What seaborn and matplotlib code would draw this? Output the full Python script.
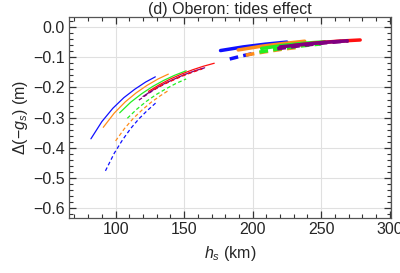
import numpy as np
import matplotlib
matplotlib.use("Agg")
import matplotlib.pyplot as plt
from matplotlib.ticker import MultipleLocator
import seaborn as sns

# left group (thin lines): solid + dashed per colour
blue_solid_h = [82, 90, 98, 106, 114, 122, 129]
blue_solid_dg = [-0.370, -0.313, -0.269, -0.234, -0.206, -0.182, -0.165]
orange_solid_h = [91, 99, 107, 115, 123, 131, 138.5]
orange_solid_dg = [-0.332, -0.285, -0.248, -0.218, -0.193, -0.172, -0.156]
green_solid_h = [103, 111, 119, 127, 135, 143, 151.5]
green_solid_dg = [-0.284, -0.249, -0.221, -0.197, -0.177, -0.160, -0.145]
purple_solid_h = [120, 126, 134, 142, 150, 158, 165]
purple_solid_dg = [-0.230, -0.212, -0.191, -0.174, -0.158, -0.145, -0.135]
red_solid_h = [124, 132, 140, 148, 156, 164, 172]
red_solid_dg = [-0.213, -0.191, -0.172, -0.156, -0.142, -0.130, -0.120]

blue_dash_h = [92.6, 99, 105, 111, 117, 123, 129.4]
blue_dash_dg = [-0.476, -0.418, -0.374, -0.336, -0.304, -0.277, -0.251]
orange_dash_h = [100, 106.5, 113, 119.5, 126, 132.5, 139]
orange_dash_dg = [-0.377, -0.336, -0.302, -0.274, -0.249, -0.228, -0.209]
green_dash_h = [108.6, 115.5, 122.5, 129.5, 137, 144, 151.5]
green_dash_dg = [-0.302, -0.272, -0.246, -0.224, -0.204, -0.187, -0.172]
purple_dash_h = [117, 124, 131, 138, 145, 152, 159, 164]
purple_dash_dg = [-0.242, -0.220, -0.200, -0.183, -0.168, -0.155, -0.144, -0.137]
red_dash_h = [128, 135, 142, 149, 156, 163]
red_dash_dg = [-0.207, -0.190, -0.176, -0.162, -0.150, -0.139]

# right group (thick lines)
blue_solid2_h = [176.6, 193, 209, 225]
blue_solid2_dg = [-0.078, -0.066, -0.057, -0.050]
orange_solid2_h = [189.5, 206, 222, 238]
orange_solid2_dg = [-0.076, -0.064, -0.055, -0.047]
green_solid2_h = [206.6, 222, 237, 252.7]
green_solid2_dg = [-0.071, -0.061, -0.054, -0.049]
purple_solid2_h = [220, 236, 252, 269]
purple_solid2_dg = [-0.066, -0.058, -0.051, -0.046]
red_solid2_h = [230, 246, 262, 278.5]
red_solid2_dg = [-0.061, -0.053, -0.047, -0.043]

blue_dash2_h = [183.3, 192, 201]
blue_dash2_dg = [-0.106, -0.096, -0.087]
orange_dash2_h = [195, 208, 221, 234]
orange_dash2_dg = [-0.093, -0.083, -0.074, -0.067]
green_dash2_h = [205, 220, 235, 250]
green_dash2_dg = [-0.083, -0.072, -0.063, -0.056]
purple_dash2_h = [218, 235, 252, 270]
purple_dash2_dg = [-0.072, -0.062, -0.053, -0.046]

x_ticks = [100, 150, 200, 250, 300]
y_ticks = [0.0, -0.1, -0.2, -0.3, -0.4, -0.5, -0.6]

BLUE, ORANGE, GREEN, PURPLE, RED = "#1010ff", "#ff8c1a", "#22ee22", "#800080", "#ff1010"
FS = 11.5

sns.set_style("ticks")
plt.rcParams["font.family"] = ["Liberation Sans", "DejaVu Sans"]
plt.rcParams["mathtext.fontset"] = "custom"
plt.rcParams["mathtext.rm"] = "Liberation Sans"
plt.rcParams["mathtext.it"] = "Liberation Sans:italic"

fig = plt.figure(figsize=(4.0, 2.73), dpi=100)
ax = fig.add_axes([0.1725, 0.2004, 0.805, 0.7373])

thin = [
    (blue_solid_h, blue_solid_dg, BLUE, "-"),
    (orange_solid_h, orange_solid_dg, ORANGE, "-"),
    (green_solid_h, green_solid_dg, GREEN, "-"),
    (blue_dash_h, blue_dash_dg, BLUE, "--"),
    (orange_dash_h, orange_dash_dg, ORANGE, "--"),
    (green_dash_h, green_dash_dg, GREEN, "--"),
    (purple_dash_h, purple_dash_dg, PURPLE, "--"),
    (purple_solid_h, purple_solid_dg, PURPLE, "-"),
    (red_solid_h, red_solid_dg, RED, "-"),
    (red_dash_h, red_dash_dg, RED, "--"),
]
for h, dg, c, ls in thin:
    sns.lineplot(x=h, y=dg, color=c, lw=0.9, ax=ax)
    if ls == "--":
        ax.lines[-1].set_dashes([3, 2])

thick = [
    (blue_dash2_h, blue_dash2_dg, BLUE, "--"),
    (orange_dash2_h, orange_dash2_dg, ORANGE, "--"),
    (green_dash2_h, green_dash2_dg, GREEN, "--"),
    (blue_solid2_h, blue_solid2_dg, BLUE, "-"),
    (orange_solid2_h, orange_solid2_dg, ORANGE, "-"),
    (green_solid2_h, green_solid2_dg, GREEN, "-"),
    (red_solid2_h, red_solid2_dg, RED, "-"),
    (purple_solid2_h, purple_solid2_dg, PURPLE, "-"),
    (purple_dash2_h, purple_dash2_dg, PURPLE, "--"),
]
for h, dg, c, ls in thick:
    sns.lineplot(x=h, y=dg, color=c, lw=2.5, ax=ax)
    if ls == "--":
        ax.lines[-1].set_dashes([2.5, 1.5])

ax.set_xticks(x_ticks)
ax.set_xticklabels([str(v) for v in x_ticks])
ax.set_yticks(y_ticks)
ax.set_yticklabels([f"{v:.1f}".replace("-", "\u2212") for v in y_ticks])
ax.xaxis.set_minor_locator(MultipleLocator(10))
ax.yaxis.set_minor_locator(MultipleLocator(0.02))
ax.set_xlim(66, 301)
ax.set_ylim(-0.633, 0.033)
ax.set_axisbelow("line")
ax.grid(True, which="major", color="#e0e0e0", lw=0.8)
ax.tick_params(which="both", direction="in", top=True, right=True,
               bottom=True, left=True, color="#333333", labelsize=FS, pad=3)
ax.tick_params(which="major", length=5, width=0.9)
ax.tick_params(which="minor", length=3, width=0.8)
for s in ax.spines.values():
    s.set_color("#555555")
    s.set_linewidth(0.9)

ax.set_title("(d) Oberon: tides effect", fontsize=FS, pad=1)
ax.set_xlabel(r"$h_s$ (km)", fontsize=FS, labelpad=5)
ax.set_ylabel(r"$\Delta(-g_s)$ (m)", fontsize=FS, labelpad=2)

fig.savefig("out.png", dpi=100)
